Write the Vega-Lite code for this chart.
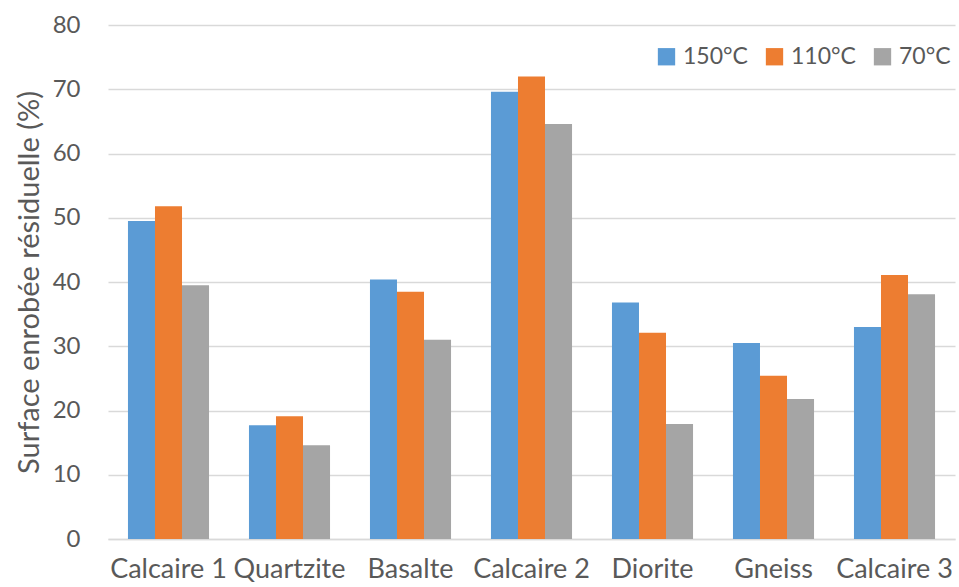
{
  "$schema": "https://vega.github.io/schema/vega-lite/v6.json",
  "width": 847,
  "height": 514,
  "autosize": {"type": "none"},
  "padding": {"left": 108, "top": 25, "right": 4, "bottom": 48},
  "background": "white",
  "data": {"values": [
    {"roche": "Calcaire 1", "temp": "150°C", "v": 49.5},
    {"roche": "Calcaire 1", "temp": "110°C", "v": 51.8},
    {"roche": "Calcaire 1", "temp": "70°C", "v": 39.5},
    {"roche": "Quartzite", "temp": "150°C", "v": 17.7},
    {"roche": "Quartzite", "temp": "110°C", "v": 19.1},
    {"roche": "Quartzite", "temp": "70°C", "v": 14.6},
    {"roche": "Basalte", "temp": "150°C", "v": 40.4},
    {"roche": "Basalte", "temp": "110°C", "v": 38.5},
    {"roche": "Basalte", "temp": "70°C", "v": 31.0},
    {"roche": "Calcaire 2", "temp": "150°C", "v": 69.6},
    {"roche": "Calcaire 2", "temp": "110°C", "v": 72.0},
    {"roche": "Calcaire 2", "temp": "70°C", "v": 64.6},
    {"roche": "Diorite", "temp": "150°C", "v": 36.8},
    {"roche": "Diorite", "temp": "110°C", "v": 32.1},
    {"roche": "Diorite", "temp": "70°C", "v": 17.9},
    {"roche": "Gneiss", "temp": "150°C", "v": 30.5},
    {"roche": "Gneiss", "temp": "110°C", "v": 25.4},
    {"roche": "Gneiss", "temp": "70°C", "v": 21.8},
    {"roche": "Calcaire 3", "temp": "150°C", "v": 33.0},
    {"roche": "Calcaire 3", "temp": "110°C", "v": 41.1},
    {"roche": "Calcaire 3", "temp": "70°C", "v": 38.1}
  ]},
  "mark": {"type": "bar"},
  "encoding": {
    "x": {
      "field": "roche", "type": "nominal", "sort": null,
      "scale": {"paddingInner": 0.33, "paddingOuter": 0.165},
      "axis": {"title": null, "labelAngle": 0, "labelFontSize": 27, "labelColor": "#595959", "labelFont": "Lato", "labelPadding": 17, "labelOverlap": false, "ticks": false, "domainColor": "#D9D9D9", "domainWidth": 1.5}
    },
    "xOffset": {"field": "temp", "type": "nominal", "sort": ["150°C", "110°C", "70°C"]},
    "y": {
      "field": "v", "type": "quantitative",
      "scale": {"domain": [0, 80]},
      "axis": {"title": "Surface enrobée résiduelle (%)", "values": [0,10,20,30,40,50,60,70,80], "labelFontSize": 24, "labelColor": "#595959", "labelFont": "Lato", "labelPadding": 28, "ticks": false, "domain": false, "gridColor": "#D9D9D9", "gridWidth": 1.5, "titleFontSize": 29, "titleFont": "Lato", "titleFontWeight": "normal", "titleColor": "#595959", "titlePadding": 8}
    },
    "color": {
      "field": "temp", "type": "nominal", "sort": ["150°C", "110°C", "70°C"],
      "scale": {"domain": ["150°C", "110°C", "70°C"], "range": ["#5B9BD5", "#ED7D31", "#A5A5A5"]},
      "legend": {"title": null, "orient": "none", "legendX": 547, "legendY": 20, "direction": "horizontal", "symbolType": "square", "symbolSize": 300, "symbolStrokeWidth": 0, "labelFontSize": 23, "labelFont": "Lato", "labelColor": "#595959", "columnPadding": 15, "labelOffset": 5}
    }
  },
  "config": {"view": {"stroke": null}}
}
